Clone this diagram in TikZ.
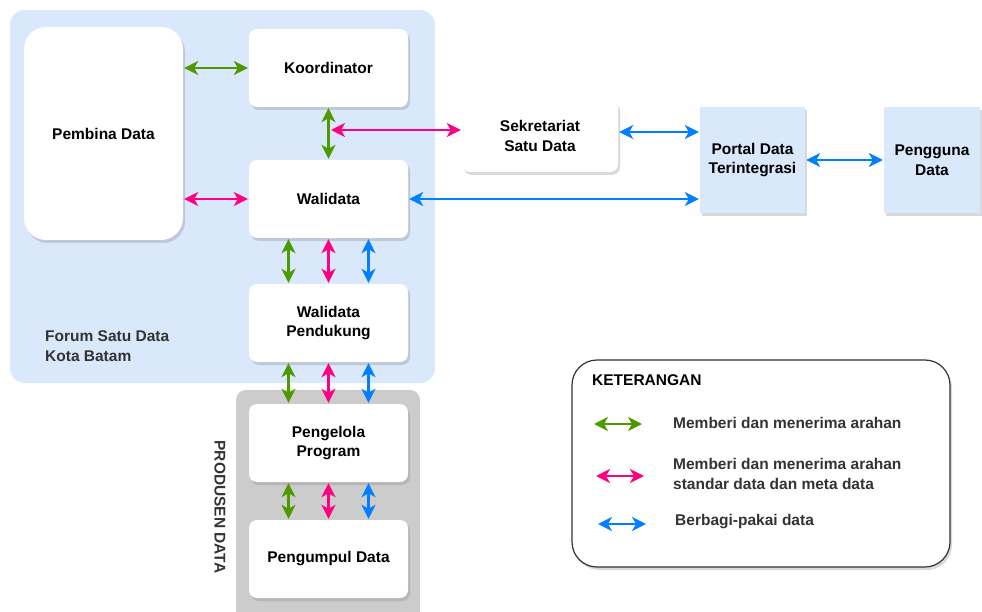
\documentclass[tikz,border=0pt]{standalone}
\usepackage{fontspec}
\setmainfont{Liberation Sans}
\usetikzlibrary{arrows.meta, shadows, positioning}

\definecolor{arahGreen}{HTML}{4D9900}
\definecolor{standarPink}{HTML}{FF0080}
\definecolor{bagiBlue}{HTML}{007FFF}
\definecolor{forumBlue}{HTML}{DAE8FC}
\definecolor{produsenGray}{HTML}{CCCCCC}
\definecolor{textGray}{HTML}{333333}

\begin{document}
\begin{tikzpicture}[x=1pt, y=-1pt,
    font=\fontsize{15.5}{19.5}\selectfont\bfseries,
    shade/.style={drop shadow={shadow xshift=2pt, shadow yshift=-3pt, opacity=0.3}},
    box/.style={shade, fill=white, rounded corners=8pt, minimum width=159pt, minimum height=78pt, align=center},
    portal/.style={shade, fill=forumBlue, minimum height=106pt, align=center},
    link/.style={line width=2.2pt, {Stealth[length=14pt,width=14pt,inset=4pt]}-{Stealth[length=14pt,width=14pt,inset=4pt]}, shorten <=1pt, shorten >=1pt},
    arahan/.style={link, draw=arahGreen},
    standar/.style={link, draw=standarPink},
    bagi/.style={link, draw=bagiBlue},
    ket/.style={anchor=west, align=left, inner xsep=0pt, text=textGray}]

    \useasboundingbox (0,0) rectangle (982,612);
    \clip (0,0) rectangle (982,612);

    % kelompok
    \fill[forumBlue, rounded corners=15pt] (10,10) rectangle (435,383);
    \fill[produsenGray, rounded corners=10pt] (236,390) rectangle (420,630);
    \node[ket] (forum) at (45,346) {Forum Satu Data\\Kota Batam};
    \node[rotate=-90, text=textGray] (produsen) at (220,507) {PRODUSEN DATA};

    % simpul
    \node[box, rounded corners=22pt, minimum height=213pt] (pembina) at (103.5,133.5) {Pembina Data};
    \node[box] (koor) at (328.5,68) {Koordinator};
    \node[box] (wali) at (328.5,199) {Walidata};
    \node[box] (wdp) at (328.5,323) {Walidata\\Pendukung};
    \node[box] (pengelola) at (328.5,443) {Pengelola\\Program};
    \node[box] (pengumpul) at (328.5,559) {Pengumpul Data};
    \node[box, minimum width=156pt, minimum height=72pt] (sek) at (540,136) {Sekretariat\\Satu Data};
    \node[portal, minimum width=105pt] (portal) at (752.5,160) {Portal Data\\Terintegrasi};
    \node[portal, minimum width=96pt] (pengguna) at (932,160) {Pengguna\\Data};

    % hubungan
    \draw[arahan] (koor.west -| pembina.east) -- (koor.west);
    \draw[standar] (wali.west -| pembina.east) -- (wali.west);
    \draw[arahan] (koor) -- (wali);
    \coordinate (kw) at (330,130);
    \draw[standar] (kw) -- (kw -| sek.west);
    \draw[bagi] (wali.east) -- (wali.east -| portal.west);
    \draw[bagi] ([yshift=4pt]sek.east) -- ([yshift=4pt]sek.east -| portal.west);
    \draw[bagi] (portal) -- (pengguna);
    \foreach \a/\b in {wali/wdp, wdp/pengelola, pengelola/pengumpul} {
        \draw[arahan] ([xshift=-40pt]\a.south) -- ([xshift=-40pt]\b.north);
        \draw[standar] (\a.south) -- (\b.north);
        \draw[bagi] ([xshift=40pt]\a.south) -- ([xshift=40pt]\b.north);
    }

    % keterangan
    \node[shade, draw=textGray, line width=1.2pt, fill=white, rounded corners=25pt, minimum width=378pt, minimum height=207pt] (legenda) at (761,463.5) {};
    \node[anchor=west, inner xsep=0pt] (judul) at (592,380) {KETERANGAN};
    \node[ket] (ketA) at (673,423) {Memberi dan menerima arahan};
    \node[ket] (ketB) at (673,474) {Memberi dan menerima arahan\\standar data dan meta data};
    \node[ket] (ketC) at (675,522) {Berbagi-pakai data};
    \coordinate (a1) at (593,424); \coordinate (a2) at (643,424);
    \coordinate (b1) at (595,476); \coordinate (b2) at (645,476);
    \coordinate (c1) at (597,524); \coordinate (c2) at (647,524);
    \draw[arahan] (a1) -- (a2);
    \draw[standar] (b1) -- (b2);
    \draw[bagi] (c1) -- (c2);
\end{tikzpicture}
\end{document}
